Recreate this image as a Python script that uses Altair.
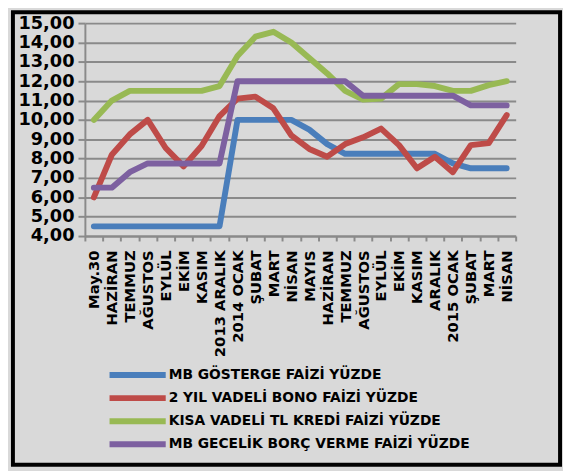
import altair as alt
import pandas as pd

labels = ["May.30", "HAZİRAN", "TEMMUZ", "AĞUSTOS", "EYLÜL", "EKİM", "KASIM",
          "2013 ARALIK", "2014 OCAK", "ŞUBAT", "MART", "NİSAN", "MAYIS",
          "HAZİRAN", "TEMMUZ", "AĞUSTOS", "EYLÜL", "EKİM", "KASIM", "ARALIK",
          "2015 OCAK", "ŞUBAT", "MART", "NİSAN"]

series = ["MB GÖSTERGE FAİZİ YÜZDE", "2 YIL VADELİ BONO FAİZİ YÜZDE",
          "KISA VADELİ TL KREDİ FAİZİ YÜZDE", "MB GECELİK BORÇ VERME FAİZİ YÜZDE"]
colors = ["#4a7ebb", "#be4b48", "#98b954", "#7d60a0"]

mb_gosterge = [4.5, 4.5, 4.5, 4.5, 4.5, 4.5, 4.5, 4.5, 10.0, 10.0, 10.0, 10.0,
               9.5, 8.75, 8.25, 8.25, 8.25, 8.25, 8.25, 8.25, 7.75, 7.5, 7.5, 7.5]
bono_2yil = [6.0, 8.2, 9.25, 10.0, 8.55, 7.6, 8.65, 10.2, 11.1, 11.2, 10.6, 9.2,
             8.5, 8.1, 8.75, 9.1, 9.55, 8.7, 7.5, 8.1, 7.3, 8.7, 8.8, 10.25]
kisa_kredi = [10.0, 11.0, 11.5, 11.5, 11.5, 11.5, 11.5, 11.75, 13.3, 14.3, 14.55, 14.0,
              13.2, 12.4, 11.5, 11.05, 11.1, 11.85, 11.85, 11.75, 11.5, 11.5, 11.8, 12.0]
gecelik = [6.5, 6.5, 7.3, 7.75, 7.75, 7.75, 7.75, 7.75, 12.0, 12.0, 12.0, 12.0,
           12.0, 12.0, 12.0, 11.25, 11.25, 11.25, 11.25, 11.25, 11.25, 10.75, 10.75, 10.75]

keys = [f"{i:02d}|{lab}" for i, lab in enumerate(labels)]
rows = []
for s, vals in zip(series, [mb_gosterge, bono_2yil, kisa_kredi, gecelik]):
    for k, v in zip(keys, vals):
        rows.append({"key": k, "series": s, "value": v})
df = pd.DataFrame(rows)

FONT = "DejaVu Sans"
GRID = "#8a8a8a"

lines = alt.Chart(df).mark_line(strokeWidth=6, strokeCap="round", strokeJoin="round").encode(
    x=alt.X("key:N", sort=keys, bandPosition=0.5,
            scale=alt.Scale(type="band", paddingInner=0, paddingOuter=0),
            axis=alt.Axis(title=None, labelExpr="split(datum.value, '|')[1]",
                          labelAngle=270, labelAlign="right", labelBaseline="middle",
                          labelFont=FONT, labelFontSize=15, labelFontWeight="bold",
                          labelColor="black", labelPadding=9, labelOverlap=False,
                          tickBand="extent", tickSize=5, tickColor=GRID, tickWidth=2,
                          domainColor=GRID, domainWidth=2, grid=False)),
    y=alt.Y("value:Q", scale=alt.Scale(domain=[4, 15], nice=False, zero=False),
            axis=alt.Axis(title=None, values=list(range(4, 16)),
                          labelExpr="replace(format(datum.value, '.2f'), '.', ',')",
                          labelFont=FONT, labelFontSize=18, labelFontWeight="bold",
                          labelColor="black", labelPadding=4,
                          tickSize=7, tickColor=GRID, tickWidth=2,
                          domainColor=GRID, domainWidth=2,
                          grid=True, gridColor=GRID, gridWidth=2)),
    color=alt.Color("series:N", sort=series,
                    scale=alt.Scale(domain=series, range=colors),
                    legend=alt.Legend(orient="none", legendX=22, legendY=349, title=None,
                                      direction="vertical", symbolType="stroke",
                                      symbolSize=3249, symbolStrokeWidth=6,
                                      clipHeight=16, rowPadding=7.4, padding=0,
                                      labelFont=FONT, labelFontSize=14,
                                      labelFontWeight="bold", labelColor="black",
                                      labelLimit=600, labelOffset=0)),
)

frame = alt.Chart(pd.DataFrame({"a": [0]})).mark_rect(
    fillOpacity=0, stroke="black", strokeWidth=4
).encode(x=alt.value(-73), x2=alt.value(482), y=alt.value(-11), y2=alt.value(448))

chart = alt.layer(lines, frame).properties(
    width=437, height=216,
    autosize=alt.AutoSizeParams(type="none"),
    padding={"left": 78, "top": 12, "right": 48, "bottom": 235},
    background="#d9d9d9",
).configure_view(stroke="transparent")

chart.save("out.html", embed_options={"renderer": "svg", "actions": False})
